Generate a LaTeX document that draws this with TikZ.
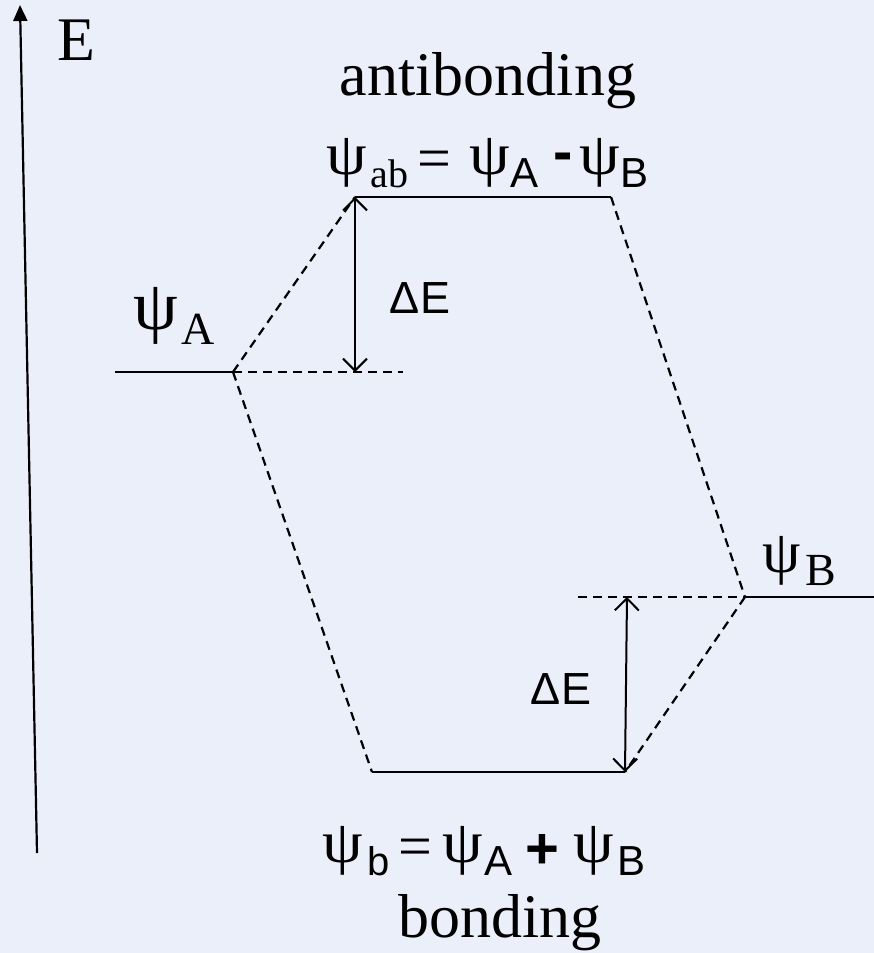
\documentclass[tikz,border=0pt]{standalone}
\usepackage{fontspec}
\usepackage{graphicx}
\setmainfont{Liberation Serif}
\newfontfamily\sansfont{Liberation Sans}
\usetikzlibrary{arrows.meta,positioning}
\definecolor{Ink}{HTML}{000000}
\definecolor{SlideFill}{HTML}{EBEFF9}
% wide psi standing on the baseline: size, horizontal stretch
\newcommand{\wpsi}[2]{\scalebox{#2}[1]{\fontsize{#1}{#1}\selectfont\raisebox{\depth}{ψ}}}
\newcommand{\putat}[2]{\makebox[0pt][l]{\hspace*{#1pt}#2}}
\newcommand{\subsans}[1]{{\sansfont\fontsize{42}{42}\selectfont #1}}
\tikzset{
  level/.style={line width=2.4pt,Ink},
  guide/.style={line width=2.2pt,Ink,dash pattern=on 9pt off 6pt},
  gap/.style={line width=2pt,Ink,{Straight Barb[length=12pt,width=24pt,line width=2pt]}-{Straight Barb[length=12pt,width=24pt,line width=2pt]}},
  axis/.style={line width=2.2pt,Ink,-{Triangle[length=16pt,width=14pt]}},
  biglabel/.style={font=\fontsize{62}{70}\selectfont,inner sep=0pt,anchor=base},
  gaplabel/.style={font=\sansfont\fontsize{45}{50}\selectfont,inner sep=0pt},
  eqlabel/.style={inner sep=0pt,anchor=base west}
}

\begin{document}
\begin{tikzpicture}[x=1pt,y=-1pt]
  \fill[SlideFill] (0,0) rectangle (874,953);
  \useasboundingbox (0,0) rectangle (874,953);

  % energy axis
  \coordinate (axisbot) at (37,853);
  \coordinate (axistop) at (20,5);
  \draw[axis] (axisbot) -- (axistop);
  \node[biglabel] (energy) at (76,60) {E};

  % atomic and molecular levels
  \coordinate (Aout) at (115,372);
  \coordinate (Ain) at (233,372);
  \coordinate (Aref) at (403,372);
  \coordinate (ABl) at (355,197);
  \coordinate (ABr) at (611,197);
  \coordinate (Bl) at (372,772);
  \coordinate (Br) at (625,772);
  \coordinate (Bin) at (745,597);
  \coordinate (Bout) at (874,597);
  \coordinate (Bref) at (578,597);

  \draw[level] (Aout) -- (Ain);
  \draw[level] (ABl) -- (ABr);
  \draw[level] (Bl) -- (Br);
  \draw[level] (Bin) -- (Bout);

  \draw[guide] (Ain) -- (Aref);
  \draw[guide] (Bref) -- (Bin);
  \draw[guide] (Ain) -- (ABl);
  \draw[guide] (Ain) -- (Bl);
  \draw[guide] (ABr) -- (Bin);
  \draw[guide] (Bin) -- (Br);

  % splitting
  \coordinate (gapAtop) at (355,197);
  \coordinate (gapAbot) at (355,372);
  \coordinate (gapBtop) at (627,597);
  \coordinate (gapBbot) at (625,772);
  \draw[gap] (gapAtop) -- (gapAbot);
  \draw[gap] (gapBtop) -- (gapBbot);
  \node[gaplabel] (dEab) at (420,298) {ΔE};
  \node[gaplabel] (dEb) at (561,689) {ΔE};

  % labels
  \node[biglabel] (antib) at (488,95) {antibonding};
  \node[biglabel] (bond) at (500,937) {bonding};
  \node[eqlabel] (psiA) at (133,344) {\putat{0}{\wpsi{70}{1.02}}\putat{48}{\fontsize{46}{46}\selectfont A}};
  \node[eqlabel] (psiB) at (762,585) {\putat{0}{\wpsi{60}{1.02}}\putat{43}{\fontsize{46}{46}\selectfont B}};
  \node[eqlabel] (eqab) at (322,187) {%
    \putat{4}{\wpsi{60}{1.08}}%
    \putat{48}{\fontsize{40}{40}\selectfont ab}%
    \putat{95}{\raisebox{9pt}{\fontsize{60}{60}\selectfont =}}%
    \putat{147}{\wpsi{60}{1.08}}%
    \putat{188}{\subsans{A}}%
    \putat{231}{\raisebox{16pt}{\sansfont\bfseries\fontsize{58}{58}\selectfont -}}%
    \putat{257}{\wpsi{60}{1.08}}%
    \putat{298}{\subsans{B}}};
  \node[eqlabel] (eqb) at (322,875) {%
    \putat{0}{\wpsi{60}{1.08}}%
    \putat{45}{\sansfont\fontsize{40}{40}\selectfont b}%
    \putat{76}{\raisebox{9pt}{\fontsize{60}{60}\selectfont =}}%
    \putat{120}{\wpsi{60}{1.08}}%
    \putat{162}{\subsans{A}}%
    \putat{203}{\raisebox{7pt}{\sansfont\bfseries\fontsize{58}{58}\selectfont +}}%
    \putat{251}{\wpsi{60}{1.08}}%
    \putat{295}{\subsans{B}}};
\end{tikzpicture}
\end{document}
